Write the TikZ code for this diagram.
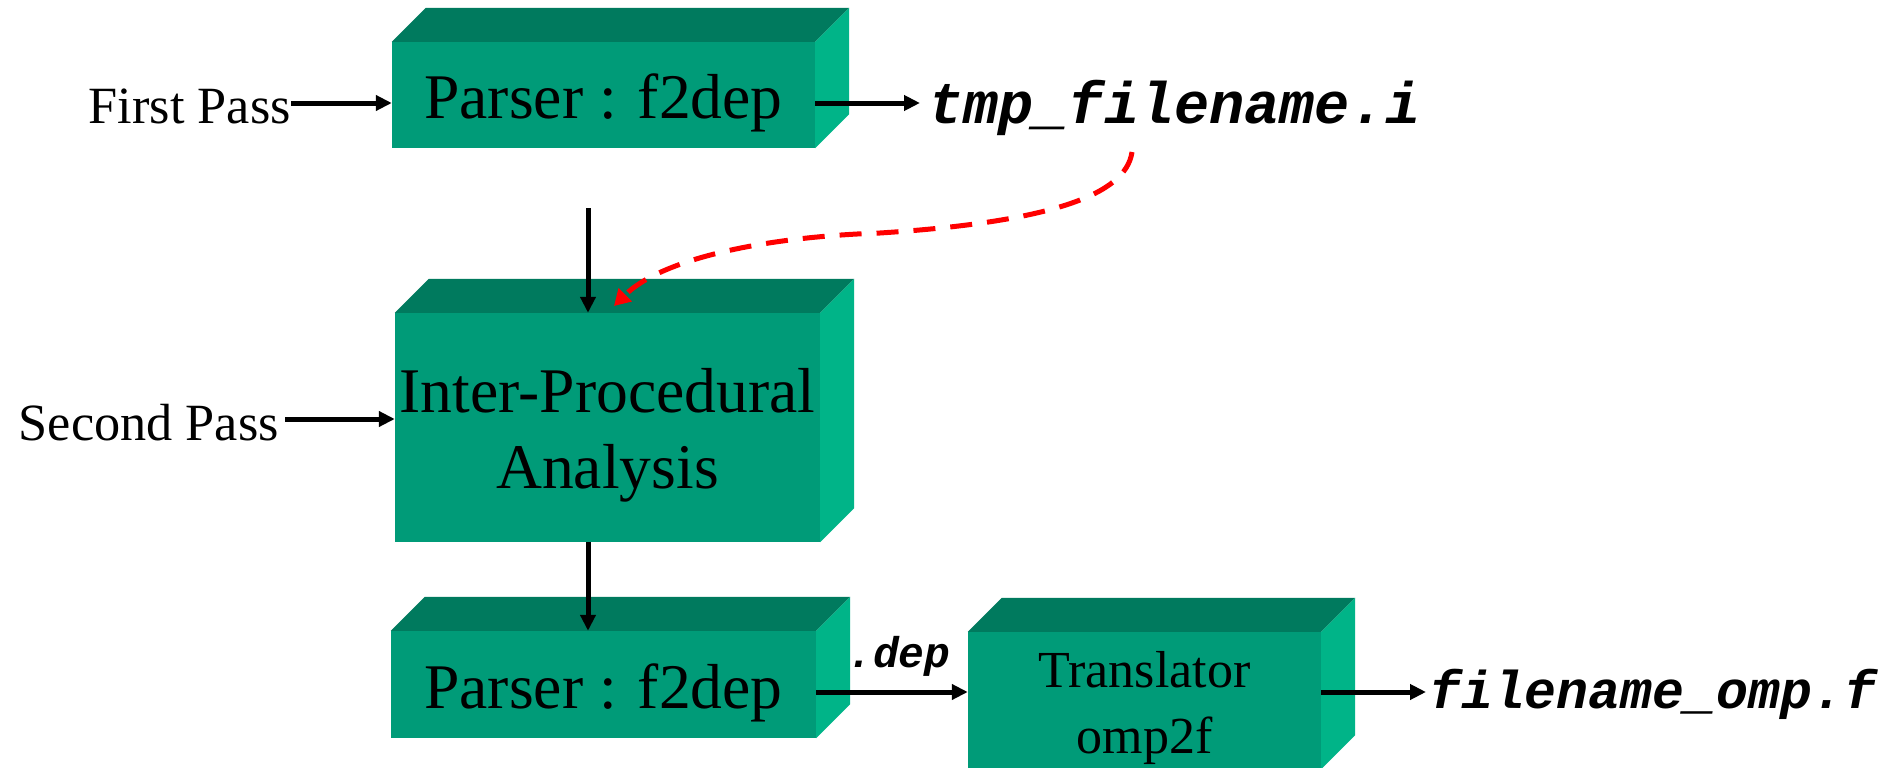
\documentclass[tikz,border=0pt]{standalone}
\usepackage{fontspec}
\setmainfont{Liberation Serif}
\setmonofont{Liberation Mono}
\usetikzlibrary{arrows.meta}
\definecolor{frontc}{RGB}{0,155,120}
\definecolor{topc}{RGB}{0,122,94}
\definecolor{sidec}{RGB}{0,180,136}
\definecolor{redc}{RGB}{255,0,0}
\newcommand\cubefaces[2]{%
  \fill[topc] (#1.north west) -- ++(#2,-#2) -- ([shift={(#2,-#2)}]#1.north east) -- (#1.north east) -- cycle;
  \fill[sidec] (#1.north east) -- ++(#2,-#2) -- ([shift={(#2,-#2)}]#1.south east) -- (#1.south east) -- cycle;}
\tikzset{
  box/.style={fill=frontc, inner sep=0pt, text=black},
  lbl/.style={inner sep=0pt, font=\fontsize{52.3}{60}\selectfont},
  fname/.style={inner sep=0pt, text=black},
  arr/.style={line width=5pt, -{Triangle[length=16pt,width=15pt]}},
  redarr/.style={draw=redc, line width=5pt, dash pattern=on 22pt off 15pt, -{Triangle[length=16pt,width=18pt]}, redc}
}
\begin{document}
\begin{tikzpicture}[x=1pt,y=-1pt]
\useasboundingbox[fill=white] (0,0) rectangle (1901,768);

% boxes (front faces)
\node[box, minimum width=423pt, minimum height=106pt, text height=46pt, text depth=0pt,
      font=\fontsize{63.6}{76}\selectfont] (p1) at (603.5,95) {Parser : f2dep};
\node[box, minimum width=425pt, minimum height=229pt,
      font=\fontsize{63.6}{76}\selectfont] (ipa) at (607.5,427.5)
  {\raisebox{0pt}[45pt][76pt]{\vtop{\hbox to 400pt{\hss Inter-Procedural\hss}\hbox to 400pt{\hss Analysis\hss}}}};
\node[box, minimum width=425pt, minimum height=107pt, text height=47pt, text depth=0pt,
      font=\fontsize{63.6}{76}\selectfont] (p2) at (603.5,684.5) {Parser : f2dep};
\node[box, minimum width=353pt, minimum height=137pt,
      font=\fontsize{52}{66}\selectfont] (tr) at (1144.5,700.5)
  {\raisebox{0pt}[35pt][62pt]{\vtop{\hbox to 300pt{\hss Translator\hss}\hbox to 300pt{\hss omp2f\hss}}}};

\cubefaces{p1}{34}
\cubefaces{ipa}{34}
\cubefaces{p2}{34}
\cubefaces{tr}{34}

% labels
\node[lbl, anchor=base east] (fp) at (291,123) {First Pass};
\node[lbl, anchor=base east] (sp) at (279,440) {Second Pass};
\node[fname, anchor=base west, font=\fontsize{58.6}{60}\selectfont\ttfamily\bfseries\itshape] (tmp) at (928,123) {tmp\_filename.i};
\node[fname, anchor=base west, font=\fontsize{53.2}{60}\selectfont\ttfamily\bfseries\itshape] (out) at (1429,708) {filename\_omp.f};
\node[fname, anchor=base west, font=\fontsize{43}{50}\selectfont\ttfamily\bfseries\itshape] (dep) at (847,667) {.dep};

% connector end points
\coordinate (e1) at (920,103);
\coordinate (e2) at (395,419);
\coordinate (e3) at (968,692);
\coordinate (e4) at (1426,692);
\coordinate (v0) at (588,208);
\coordinate (c0) at (1132,152);

% connectors
\draw[arr] (fp.east |- e1) -- (p1.west |- e1);
\draw[arr] (p1.east |- e1) -- (e1);
\draw[arr, shorten <=6pt] (sp.east |- e2) -- (ipa.west |- e2);
\draw[arr] (v0) -- (v0 |- ipa.north);
\draw[arr] (ipa.south -| v0) -- (p2.north -| v0);
\draw[arr] (p2.east |- e3) -- (tr.west |- e3);
\draw[arr] (tr.east |- e4) -- (e4);
\draw[redarr] (c0) .. controls (1126,195) and (1050,222) .. (880,233)
               .. controls (760,237) and (660,260) .. (614,306);
\end{tikzpicture}
\end{document}
